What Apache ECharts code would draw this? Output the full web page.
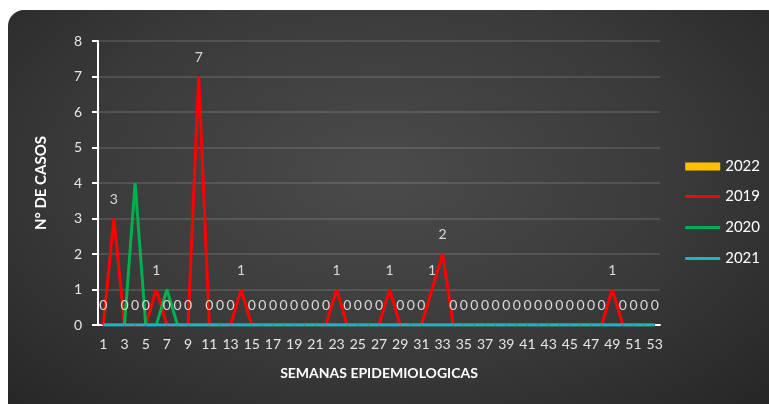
<!DOCTYPE html>
<html>
<head>
<meta charset="utf-8">
<script src="https://cdn.jsdelivr.net/npm/echarts@6/dist/echarts.min.js"></script>
<style>
  html, body { margin:0; padding:0; background:#fff; }
  #card {
    position:absolute; left:8px; top:10px; width:775px; height:410px;
    border-radius:16px;
    background: radial-gradient(ellipse 70% 80% at 48% 40%, #4b4b4b 0%, #3a3a3a 55%, #262626 100%);
  }
  #main { position:absolute; left:0; top:0; width:769px; height:404px; }
</style>
</head>
<body>
<div id="card"></div>
<div id="main"></div>
<script>
var weeks = [];
for (var w = 1; w <= 53; w++) weeks.push(String(w));

var data2022 = [];
var data2019 = [0,3,0,0,0,1,0,0,0,7,0,0,0,1,0,0,0,0,0,0,0,0,1,0,0,0,0,1,0,0,0,1,2,0,0,0,0,0,0,0,0,0,0,0,0,0,0,0,1,0,0,0,0];
var data2020 = [0,0,0,4,0,0,1,0,0,0,0,0,0,0,0,0,0,0,0,0,0,0,0,0,0,0,0,0,0,0,0,0,0,0,0,0,0,0,0,0,0,0,0,0,0,0,0,0,0,0,0,0,0];
var data2021 = [0,0,0,0,0,0,0,0,0,0,0,0,0,0,0,0,0,0,0,0,0,0,0,0,0,0,0,0,0,0,0,0,0,0,0,0,0,0,0,0,0,0,0,0,0,0,0,0,0,0,0,0,0];

var chart = echarts.init(document.getElementById('main'));
var font = 'Lato';
var legendText = { color:'#ffffff', fontSize:15, fontFamily:font };

var option = {
  backgroundColor: 'transparent',
  animation: false,
  grid: { left:98, right:109, top:41, bottom:79 },
  legend: [
    {
      orient:'vertical', right:4, top:154,
      itemWidth:35, itemHeight:8,
      textStyle:legendText,
      data:[{ name:'2022', icon:'rect' }]
    },
    {
      orient:'vertical', right:4, top:184,
      itemGap:16, itemWidth:35, itemHeight:3,
      icon:'rect',
      textStyle:legendText,
      data:['2019','2020','2021']
    }
  ],
  xAxis: {
    type:'category',
    data:weeks,
    boundaryGap:true,
    name:'SEMANAS EPIDEMIOLOGICAS',
    nameLocation:'middle',
    nameGap:41,
    nameTextStyle:{ color:'#ffffff', fontWeight:'bold', fontSize:14, fontFamily:font },
    axisLine:{ lineStyle:{ color:'#ffffff', width:2 } },
    axisTick:{ interval:0, length:5, lineStyle:{ color:'#ffffff' } },
    axisLabel:{ interval:1, color:'#e6e6e6', fontSize:14, margin:12, fontFamily:font },
    splitLine:{ show:false }
  },
  yAxis: {
    type:'value',
    min:0, max:8, interval:1,
    name:'N° DE CASOS',
    nameLocation:'middle',
    nameGap:49,
    nameTextStyle:{ color:'#ffffff', fontWeight:'bold', fontSize:15, fontFamily:font },
    axisLine:{ show:true, lineStyle:{ color:'#ffffff', width:2 } },
    axisTick:{ show:true, length:6, lineStyle:{ color:'#ffffff', width:2 } },
    axisLabel:{ color:'#e6e6e6', fontSize:14, margin:16, fontFamily:font },
    splitLine:{ lineStyle:{ color:'rgba(255,255,255,0.16)', width:1.5 } }
  },
  series: [
    {
      name:'2022', type:'bar', data:data2022,
      itemStyle:{ color:'#ffc000' }
    },
    {
      name:'2019', type:'line', data:data2019,
      symbol:'circle', symbolSize:1, showSymbol:true, showAllSymbol:true,
      lineStyle:{ color:'#ff0000', width:3 },
      itemStyle:{ color:'#ff0000' },
      label:{ show:true, position:'top', distance:12, color:'#d9d9d9', fontSize:14, fontFamily:font }
    },
    {
      name:'2020', type:'line', data:data2020,
      symbol:'none',
      lineStyle:{ color:'#00b050', width:3 },
      itemStyle:{ color:'#00b050' }
    },
    {
      name:'2021', type:'line', data:data2021,
      symbol:'none',
      lineStyle:{ color:'#1fb2c9', width:3 },
      itemStyle:{ color:'#1fb2c9' }
    }
  ]
};
chart.setOption(option);
</script>
</body>
</html>
